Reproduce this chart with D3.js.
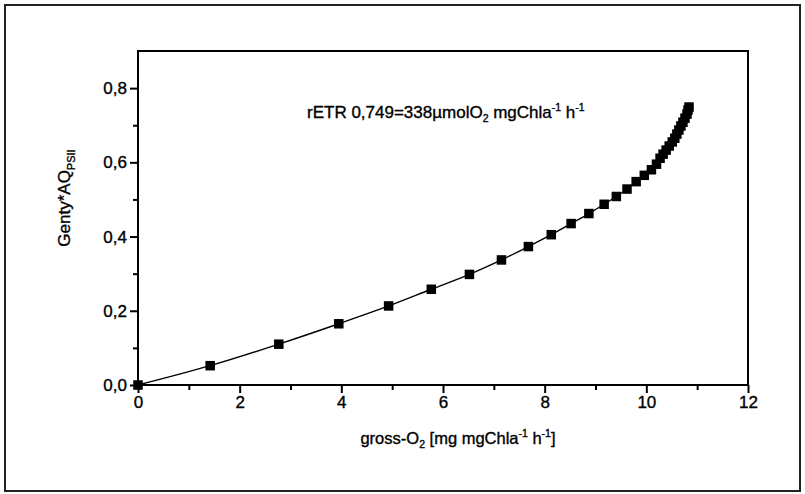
<!DOCTYPE html>
<html>
<head>
<meta charset="utf-8">
<script src="https://cdn.jsdelivr.net/npm/d3@7"></script>
<style>
  body { margin: 0; background: #fff; }
  text { font-family: "Liberation Sans", Arial, sans-serif; fill: #000; stroke: #000; stroke-width: 0.35px; }
</style>
</head>
<body>
<div class="chart"></div>
<script>
// Data
const grossO2 = [0, 1.42, 2.77, 3.95, 4.93, 5.77, 6.52, 7.15, 7.68, 8.13, 8.52, 8.87, 9.17,
  9.41, 9.62, 9.80, 9.96, 10.10, 10.20, 10.27, 10.33, 10.39, 10.45, 10.51, 10.56, 10.60,
  10.64, 10.68, 10.72, 10.76, 10.80, 10.82, 10.84];
const gentyAQ = [0, 0.052, 0.110, 0.165, 0.213, 0.258, 0.298, 0.337, 0.373, 0.405, 0.435,
  0.462, 0.487, 0.508, 0.528, 0.548, 0.565, 0.580, 0.595, 0.611, 0.622, 0.633, 0.644, 0.655,
  0.665, 0.676, 0.687, 0.698, 0.708, 0.719, 0.730, 0.741, 0.749];
const xTicks = [0, 2, 4, 6, 8, 10, 12];
const yTicks = [0, 0.2, 0.4, 0.6, 0.8];

const points = grossO2.map((x, i) => ({ x: x, y: gentyAQ[i] }));

// Layout
const W = 805, H = 494;
const margin = { top: 51, right: 57, bottom: 109, left: 138 };
const width = W - margin.left - margin.right;
const height = H - margin.top - margin.bottom;

const svg = d3.select('.chart')
  .append('svg')
  .attr('width', W)
  .attr('height', H);

// outer frame of the figure
svg.append('rect')
  .attr('x', 5).attr('y', 5)
  .attr('width', 795).attr('height', 486)
  .attr('fill', 'none')
  .attr('stroke', '#222')
  .attr('stroke-width', 2);

const g = svg.append('g')
  .attr('transform', `translate(${margin.left}, ${margin.top})`);

const x = d3.scaleLinear().domain([0, 12]).range([0, width]);
const y = d3.scaleLinear().domain([0, 0.9]).range([height, 0]);

const comma = d => d3.format('.1f')(d).replace('.', ',');

// minor ticks
const xAxisMinor = d3.axisBottom(x).tickValues(d3.range(1, 12, 2)).tickSize(5).tickFormat('');
const yAxisMinor = d3.axisLeft(y).tickValues([0.1, 0.3, 0.5, 0.7]).tickSize(5).tickFormat('');
g.append('g').attr('transform', `translate(0, ${height})`).call(xAxisMinor);
g.append('g').call(yAxisMinor);

// major axes
const xAxis = d3.axisBottom(x).tickValues(xTicks).tickSize(8).tickPadding(3).tickFormat(d3.format('d'));
const yAxis = d3.axisLeft(y).tickValues(yTicks).tickSize(8).tickPadding(3).tickFormat(comma);
g.append('g').attr('class', 'x axis').attr('transform', `translate(0, ${height})`).call(xAxis);
g.append('g').attr('class', 'y axis').call(yAxis);

g.selectAll('.domain').remove();
g.selectAll('.tick line').style('stroke', '#000').style('stroke-width', 2);
g.selectAll('.tick text').style('font-size', '17px').style('fill', '#000');

// plot frame
g.append('rect')
  .attr('width', width)
  .attr('height', height)
  .attr('fill', 'none')
  .attr('stroke', '#000')
  .attr('stroke-width', 2);

// line
const line = d3.line()
  .x(d => x(d.x))
  .y(d => y(d.y))
  .curve(d3.curveMonotoneX);

g.append('path')
  .datum(points)
  .attr('d', line)
  .attr('fill', 'none')
  .attr('stroke', '#000')
  .attr('stroke-width', 1.4);

// markers
const s = 9.5;
g.selectAll('.pt')
  .data(points)
  .join('rect')
  .attr('class', 'pt')
  .attr('x', d => x(d.x) - s / 2)
  .attr('y', d => y(d.y) - s / 2)
  .attr('width', s)
  .attr('height', s)
  .attr('fill', '#000');

// annotation
const ann = svg.append('text')
  .attr('x', 307)
  .attr('y', 118)
  .attr('font-size', 17);
ann.append('tspan').text('rETR 0,749=338µmolO');
ann.append('tspan').attr('font-size', 10.5).attr('dy', 4).text('2');
ann.append('tspan').attr('dy', -4).text(' mgChla');
ann.append('tspan').attr('font-size', 10.5).attr('dy', -7).text('-1');
ann.append('tspan').attr('dy', 7).text(' h');
ann.append('tspan').attr('font-size', 10.5).attr('dy', -7).text('-1');

// x label
const xl = svg.append('text')
  .attr('x', 458)
  .attr('y', 444)
  .attr('text-anchor', 'middle')
  .attr('font-size', 16.5);
xl.append('tspan').text('gross-O');
xl.append('tspan').attr('font-size', 10.5).attr('dy', 4).text('2');
xl.append('tspan').attr('dy', -4).text(' [mg mgChla');
xl.append('tspan').attr('font-size', 10.5).attr('dy', -7).text('-1');
xl.append('tspan').attr('dy', 7).text(' h');
xl.append('tspan').attr('font-size', 10.5).attr('dy', -7).text('-1');
xl.append('tspan').attr('dy', 7).text(']');

// y label
const yl = svg.append('text')
  .attr('transform', 'translate(70, 198) rotate(-90)')
  .attr('text-anchor', 'middle')
  .attr('font-size', 17);
yl.append('tspan').text('Genty*AQ');
yl.append('tspan').attr('font-size', 11).attr('dy', 5).text('PSII');
</script>
</body>
</html>
